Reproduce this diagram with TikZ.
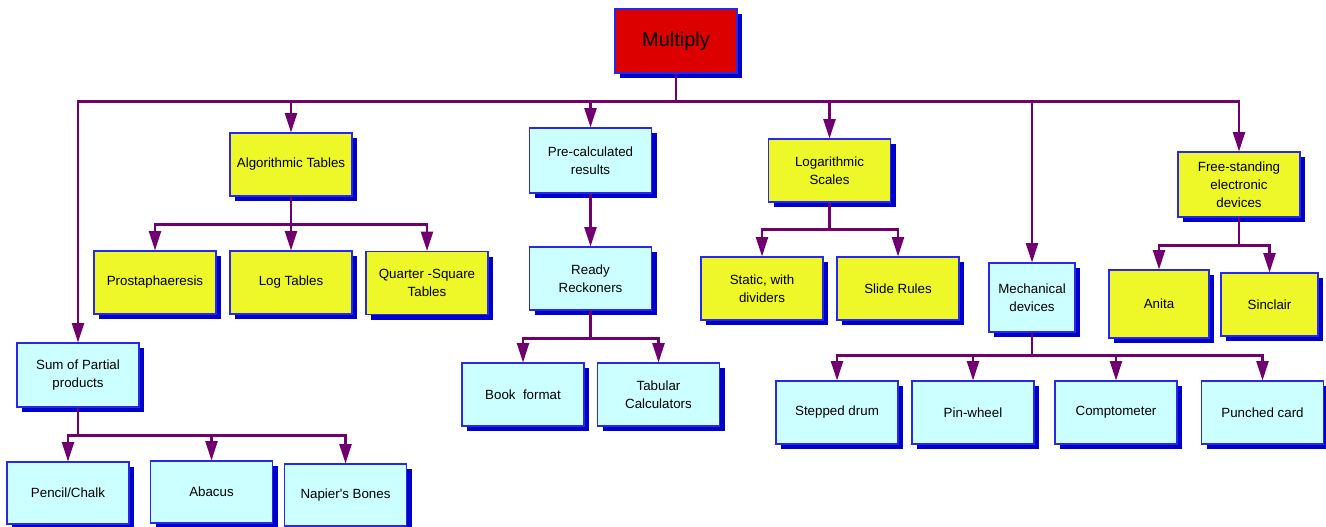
\documentclass[tikz,border=0pt]{standalone}
\usepackage{fontspec}
\setmainfont{Liberation Sans}
\usetikzlibrary{shapes, arrows.meta, shadows}
\definecolor{boxyellow}{RGB}{238,248,40}
\definecolor{boxcyan}{RGB}{204,255,255}
\definecolor{boxred}{RGB}{221,0,0}
\definecolor{shadowblue}{RGB}{0,0,204}
\definecolor{edgeblue}{RGB}{40,40,230}
\definecolor{linkpurple}{RGB}{112,0,112}

\begin{document}
\begin{tikzpicture}[x=0.75pt, y=-0.75pt, >={Triangle[length=14.5pt,width=9pt]}]
\useasboundingbox (0,0) rectangle (1326,526);
\tikzstyle{every node}=[draw=edgeblue, line width=0.8pt, shape=rectangle, align=center, inner sep=0pt, minimum width=91.5pt, minimum height=47.25pt, font=\fontsize{10}{13.5}\selectfont, drop shadow={shadow xshift=3.75pt, shadow yshift=-3.75pt, fill=shadowblue, opacity=1}];
\tikzstyle{yellowbox}=[fill=boxyellow];
\tikzstyle{cyanbox}=[fill=boxcyan];
\tikzstyle{link}=[->, draw=linkpurple, line width=1.6pt];
% top
\path (676,41) node [fill=boxred, minimum height=48pt, font=\fontsize{15}{18}\selectfont] (mult) {Multiply};
% first row
\path (78,375) node [cyanbox, minimum height=48pt] (sum) {Sum of Partial\\products};
\path (291,164.5) node [yellowbox] (alg) {Algorithmic Tables};
\path (590.5,160.5) node [cyanbox, minimum height=48.75pt] (pre) {Pre-calculated\\results};
\path (829.5,170.5) node [yellowbox] (logs) {Logarithmic\\Scales};
\path (1032,297.5) node [cyanbox, minimum width=64.5pt, minimum height=51.75pt] (mech) {Mechanical\\devices};
\path (1239,184.5) node [yellowbox, minimum height=48.75pt] (free) {Free-standing\\electronic\\devices};
% second row
\path (155,282.5) node [yellowbox] (pros) {Prostaphaeresis};
\path (291,282.5) node [yellowbox] (logt) {Log Tables};
\path (427,283) node [yellowbox] (quart) {Quarter -Square\\Tables};
\path (590.5,278.5) node [cyanbox] (ready) {Ready\\Reckoners};
\path (523,394.5) node [cyanbox] (book) {Book~ format};
\path (658.5,394.5) node [cyanbox] (tab) {Tabular\\Calculators};
\path (762,288.5) node [yellowbox] (stat) {Static, with\\dividers};
\path (898,288.5) node [yellowbox] (slide) {Slide Rules};
\path (1159,304) node [yellowbox, minimum width=75pt, minimum height=51pt] (anita) {Anita};
\path (1269.5,304.5) node [yellowbox, minimum width=72.75pt] (sinc) {Sinclair};
\path (837,412.5) node [cyanbox] (drum) {Stepped drum};
\path (973,412.5) node [cyanbox] (pin) {Pin-wheel};
\path (1116,412.5) node [cyanbox] (compt) {Comptometer};
\path (1262.5,412.5) node [cyanbox] (punch) {Punched card};
\path (68,493) node [cyanbox, minimum height=46.5pt] (pencil) {Pencil/Chalk};
\path (211.5,492) node [cyanbox, minimum height=46.5pt] (abacus) {Abacus};
\path (345.5,495) node [cyanbox, minimum height=46.5pt] (napier) {Napier\textquotesingle s Bones};
% connectors
\draw [link] (mult.south) -- +(0,28) -| (sum.north);
\draw [link] (mult.south) -- +(0,28) -| (alg.north);
\draw [link] (mult.south) -- +(0,28) -| (pre.north);
\draw [link] (mult.south) -- +(0,28) -| (logs.north);
\draw [link] (mult.south) -- +(0,28) -| (mech.north);
\draw [link] (mult.south) -- +(0,28) -| (free.north);
\draw [link] (alg.south) -- +(0,28) -| (pros.north);
\draw [link] (alg.south) -- +(0,28) -| (logt.north);
\draw [link] (alg.south) -- +(0,28) -| (quart.north);
\draw [link] (pre) -- (ready);
\draw [link] (ready.south) -- +(0,28) -| (book.north);
\draw [link] (ready.south) -- +(0,28) -| (tab.north);
\draw [link] (logs.south) -- +(0,27) -| (stat.north);
\draw [link] (logs.south) -- +(0,27) -| (slide.north);
\draw [link] (mech.south) -- +(0,23) -| (drum.north);
\draw [link] (mech.south) -- +(0,23) -| (pin.north);
\draw [link] (mech.south) -- +(0,23) -| (compt.north);
\draw [link] (mech.south) -- +(0,23) -| (punch.north);
\draw [link] (free.south) -- +(0,28) -| (anita.north);
\draw [link] (free.south) -- +(0,28) -| (sinc.north);
\draw [link] (sum.south) -- +(0,28) -| (pencil.north);
\draw [link] (sum.south) -- +(0,28) -| (abacus.north);
\draw [link] (sum.south) -- +(0,28) -| (napier.north);
\end{tikzpicture}
\end{document}
